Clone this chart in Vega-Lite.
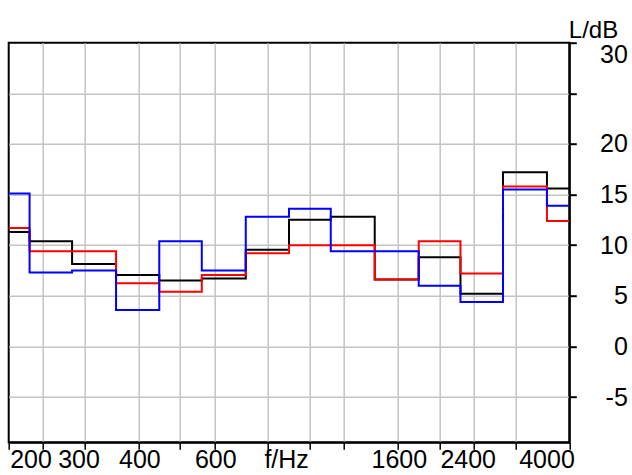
{
  "$schema": "https://vega.github.io/schema/vega-lite/v6.json",
  "width": 560.6,
  "height": 399.6,
  "autosize": "none",
  "padding": {"left": 8.7, "top": 42.7, "right": 62.7, "bottom": 32.7},
  "background": "white",
  "config": {"view": {"stroke": "black", "strokeWidth": 2}, "font": "Liberation Sans"},
  "data": {"values": [
    {"s": "a", "f": 200, "L": 11.3}, {"s": "a", "f": 250, "L": 10.4}, {"s": "a", "f": 315, "L": 8.15}, {"s": "a", "f": 400, "L": 7.05},
    {"s": "a", "f": 500, "L": 6.5}, {"s": "a", "f": 630, "L": 6.7}, {"s": "a", "f": 800, "L": 9.55}, {"s": "a", "f": 1000, "L": 12.5},
    {"s": "a", "f": 1250, "L": 12.8}, {"s": "a", "f": 1600, "L": 6.6}, {"s": "a", "f": 2000, "L": 8.8}, {"s": "a", "f": 2500, "L": 5.2},
    {"s": "a", "f": 3150, "L": 17.2}, {"s": "a", "f": 4000, "L": 15.6},
    {"s": "b", "f": 200, "L": 11.7}, {"s": "b", "f": 250, "L": 9.4}, {"s": "b", "f": 315, "L": 9.4}, {"s": "b", "f": 400, "L": 6.25},
    {"s": "b", "f": 500, "L": 5.4}, {"s": "b", "f": 630, "L": 7.05}, {"s": "b", "f": 800, "L": 9.2}, {"s": "b", "f": 1000, "L": 10.0},
    {"s": "b", "f": 1250, "L": 10.0}, {"s": "b", "f": 1600, "L": 6.6}, {"s": "b", "f": 2000, "L": 10.4}, {"s": "b", "f": 2500, "L": 7.2},
    {"s": "b", "f": 3150, "L": 15.8}, {"s": "b", "f": 4000, "L": 12.4},
    {"s": "c", "f": 200, "L": 15.1}, {"s": "c", "f": 250, "L": 7.3}, {"s": "c", "f": 315, "L": 7.5}, {"s": "c", "f": 400, "L": 3.6},
    {"s": "c", "f": 500, "L": 10.4}, {"s": "c", "f": 630, "L": 7.5}, {"s": "c", "f": 800, "L": 12.8}, {"s": "c", "f": 1000, "L": 13.6},
    {"s": "c", "f": 1250, "L": 9.4}, {"s": "c", "f": 1600, "L": 9.4}, {"s": "c", "f": 2000, "L": 6.0}, {"s": "c", "f": 2500, "L": 4.4},
    {"s": "c", "f": 3150, "L": 15.5}, {"s": "c", "f": 4000, "L": 13.9}
  ]},
  "mark": {"type": "line", "interpolate": "step", "strokeWidth": 2, "clip": true},
  "encoding": {
    "x": {
      "field": "f", "type": "quantitative",
      "scale": {"type": "log", "domain": [200, 4000], "nice": false},
      "axis": {
        "values": [200, 240, 300, 400, 500, 600, 800, 1000, 1200, 1600, 2000, 2400, 3000, 4000],
        "grid": true, "gridColor": "#c4c4c4", "gridWidth": 1.5,
        "gridOpacity": {"condition": {"test": "datum.value <= 200 || datum.value >= 4000", "value": 0}, "value": 1},
        "domain": true, "domainColor": "black", "domainWidth": 2,
        "ticks": true, "tickColor": "black", "tickSize": 7, "tickWidth": 1.5,
        "labelExpr": "datum.value==200?'200':datum.value==300?'300':datum.value==400?'400':datum.value==600?'600':datum.value==800?'f/Hz':datum.value==1600?'1600':datum.value==2400?'2400':datum.value==4000?'4000':''",
        "labelFont": "Liberation Sans", "labelFontSize": 25, "labelColor": "black",
        "labelOverlap": false, "labelFlush": false, "labelBound": false,
        "labelPadding": -2, "labelBaseline": "top",
        "labelAlign": {"condition": [{"test": "datum.value==200", "value": "left"}, {"test": "datum.value==4000", "value": "right"}], "value": "center"},
        "labelOffset": {"condition": [{"test": "datum.value==300", "value": -6}, {"test": "datum.value==800", "value": 18}, {"test": "datum.value==2400", "value": -6}, {"test": "datum.value==4000", "value": 5}], "value": 1},
        "title": null
      }
    },
    "y": {
      "field": "L", "type": "quantitative",
      "scale": {"domain": [-9.47, 30], "nice": false, "zero": false},
      "axis": {
        "orient": "right",
        "values": [-5, 0, 5, 10, 15, 20, 25, 30],
        "grid": true, "gridColor": "#c4c4c4", "gridWidth": 1.5,
        "gridOpacity": {"condition": {"test": "datum.value >= 30", "value": 0}, "value": 1},
        "domain": true, "domainColor": "black", "domainWidth": 2,
        "ticks": true, "tickColor": "black", "tickSize": 7, "tickWidth": 2,
        "labelExpr": "datum.value==25?'':''+datum.value",
        "labelAlign": "right", "labelPadding": 51,
        "labelFont": "Liberation Sans", "labelFontSize": 25, "labelColor": "black",
        "labelBaseline": {"condition": {"test": "datum.value==30", "value": "top"}, "value": "middle"},
        "labelOverlap": false, "labelFlush": false, "labelBound": false,
        "title": "L/dB", "titleAngle": 0, "titleAlign": "left", "titleBaseline": "alphabetic",
        "titleX": -1, "titleY": -5, "titleFontSize": 24, "titleFontWeight": "normal",
        "titleFont": "Liberation Sans", "titleColor": "black"
      }
    },
    "color": {
      "field": "s", "type": "nominal",
      "scale": {"domain": ["a", "b", "c"], "range": ["#000000", "#ff0000", "#0000ff"]},
      "legend": null
    }
  }
}
